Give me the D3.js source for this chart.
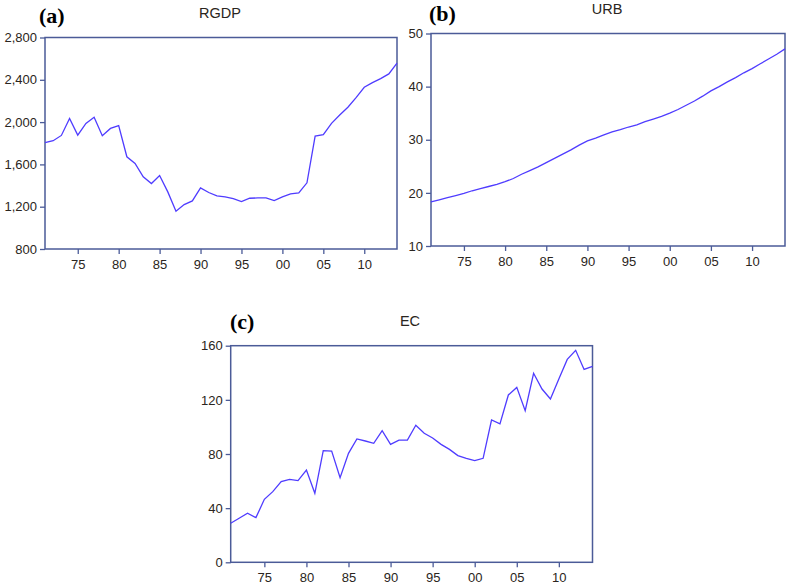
<!DOCTYPE html>
<html>
<head>
<meta charset="utf-8">
<script src="https://cdn.jsdelivr.net/npm/d3@7"></script>
<style>
  body { margin: 0; background: #fff; }
  svg { display: block; }
</style>
</head>
<body>
<svg width="789" height="586"></svg>
<script>
var years = d3.range(1971, 2015);

var rgdp = [1805, 1824, 1874, 2035, 1877, 1988, 2045, 1871, 1940, 1966,
            1672, 1609, 1482, 1419, 1495, 1340, 1157, 1220, 1255, 1378,
            1334, 1302, 1293, 1277, 1249, 1280, 1283, 1283, 1258, 1293,
            1321, 1331, 1426, 1868, 1881, 1988, 2067, 2140, 2231, 2329,
            2373, 2411, 2456, 2557];

var urb = [18.3, 18.7, 19.1, 19.5, 19.9, 20.4, 20.8, 21.2, 21.6, 22.1,
           22.7, 23.5, 24.2, 24.9, 25.7, 26.5, 27.3, 28.1, 29.0, 29.8,
           30.3, 30.9, 31.5, 31.9, 32.4, 32.8, 33.4, 33.9, 34.4, 35.0,
           35.7, 36.5, 37.3, 38.2, 39.2, 40.0, 40.9, 41.7, 42.6, 43.4,
           44.3, 45.2, 46.1, 47.1];

var ec = [28.8, 32.5, 36.2, 33.0, 46.5, 52.2, 59.6, 61.3, 60.3, 68.2,
          51.0, 82.5, 82.2, 62.5, 80.5, 91.1, 89.6, 87.9, 97.2, 87.1,
          90.3, 90.3, 101.2, 95.3, 91.8, 87.1, 83.4, 78.8, 76.8, 75.1,
          76.8, 105.1, 102.2, 123.6, 129.2, 112.0, 139.6, 128.0, 120.6, 135.4,
          149.9, 156.6, 142.5, 144.7];

var xTicks = [1975, 1980, 1985, 1990, 1995, 2000, 2005, 2010];
var rgdpTicks = [800, 1200, 1600, 2000, 2400, 2800];
var urbTicks = [10, 20, 30, 40, 50];
var ecTicks = [0, 40, 80, 120, 160];

var svg = d3.select("svg");
var frameColor = "#4b5b98";
var lineColor = "#4f3cff";
var textColor = "#2a2520";

var drawPanel = function(opt)
{
  var g = svg.append("g");
  var xScale = d3.scaleLinear()
                 .domain([1971, 2014])
                 .range([opt.left, opt.right]);
  var yScale = d3.scaleLinear()
                 .domain(opt.domain)
                 .range([opt.bottom, opt.top]);

  g.append("rect")
   .attr("x", opt.left)
   .attr("y", opt.top)
   .attr("width", opt.right - opt.left)
   .attr("height", opt.bottom - opt.top)
   .attr("fill", "none")
   .attr("stroke", frameColor)
   .attr("stroke-width", 1.5);

  var yAxis = g.append("g")
               .attr("transform", "translate(" + opt.left + ",0)")
               .call(d3.axisLeft(yScale)
                       .tickValues(opt.ticks)
                       .tickFormat(d3.format(","))
                       .tickSize(5)
                       .tickPadding(3)
                       .tickSizeOuter(0));
  var xAxis = g.append("g")
               .attr("transform", "translate(0," + opt.bottom + ")")
               .call(d3.axisBottom(xScale)
                       .tickValues(xTicks)
                       .tickFormat(function(d){ return d3.format("02")(d % 100); })
                       .tickSize(5)
                       .tickPadding(opt.xpad)
                       .tickSizeOuter(0));
  [yAxis, xAxis].forEach(function(a)
  {
    a.select(".domain").remove();
    a.selectAll("line").attr("stroke", frameColor).attr("stroke-width", 1.3);
    a.selectAll("text")
     .attr("fill", textColor)
     .style("font-family", "Liberation Sans, Arial, sans-serif")
     .style("font-size", "13px");
  });

  var line = d3.line()
               .x(function(d, i){ return xScale(years[i]); })
               .y(function(d){ return yScale(d); });
  g.append("path")
   .datum(opt.values)
   .attr("d", line)
   .attr("fill", "none")
   .attr("stroke", lineColor)
   .attr("stroke-width", 1.3);

  g.append("text")
   .attr("x", opt.titleX)
   .attr("y", opt.titleY)
   .attr("text-anchor", "middle")
   .attr("fill", textColor)
   .style("font-family", "Liberation Sans, Arial, sans-serif")
   .style("font-size", "14.5px")
   .text(opt.title);

  g.append("text")
   .attr("x", opt.tagX)
   .attr("y", opt.tagY)
   .attr("fill", "#000")
   .style("font-family", "Liberation Serif, serif")
   .style("font-weight", "bold")
   .style("font-size", "22px")
   .text(opt.tag);
}

drawPanel({values: rgdp, domain: [800, 2800], ticks: rgdpTicks,
           left: 45, right: 397, top: 37.5, bottom: 249, xpad: 6,
           title: "RGDP", titleX: 220, titleY: 18, tag: "(a)", tagX: 39, tagY: 23});
drawPanel({values: urb, domain: [10, 50], ticks: urbTicks,
           left: 431, right: 785, top: 33.5, bottom: 246, xpad: 6,
           title: "URB", titleX: 607, titleY: 14, tag: "(b)", tagX: 429, tagY: 21});
drawPanel({values: ec, domain: [0, 160], ticks: ecTicks,
           left: 230.7, right: 592.5, top: 345.7, bottom: 562.3, xpad: 5,
           title: "EC", titleX: 410, titleY: 326, tag: "(c)", tagX: 230, tagY: 329});
</script>
</body>
</html>
